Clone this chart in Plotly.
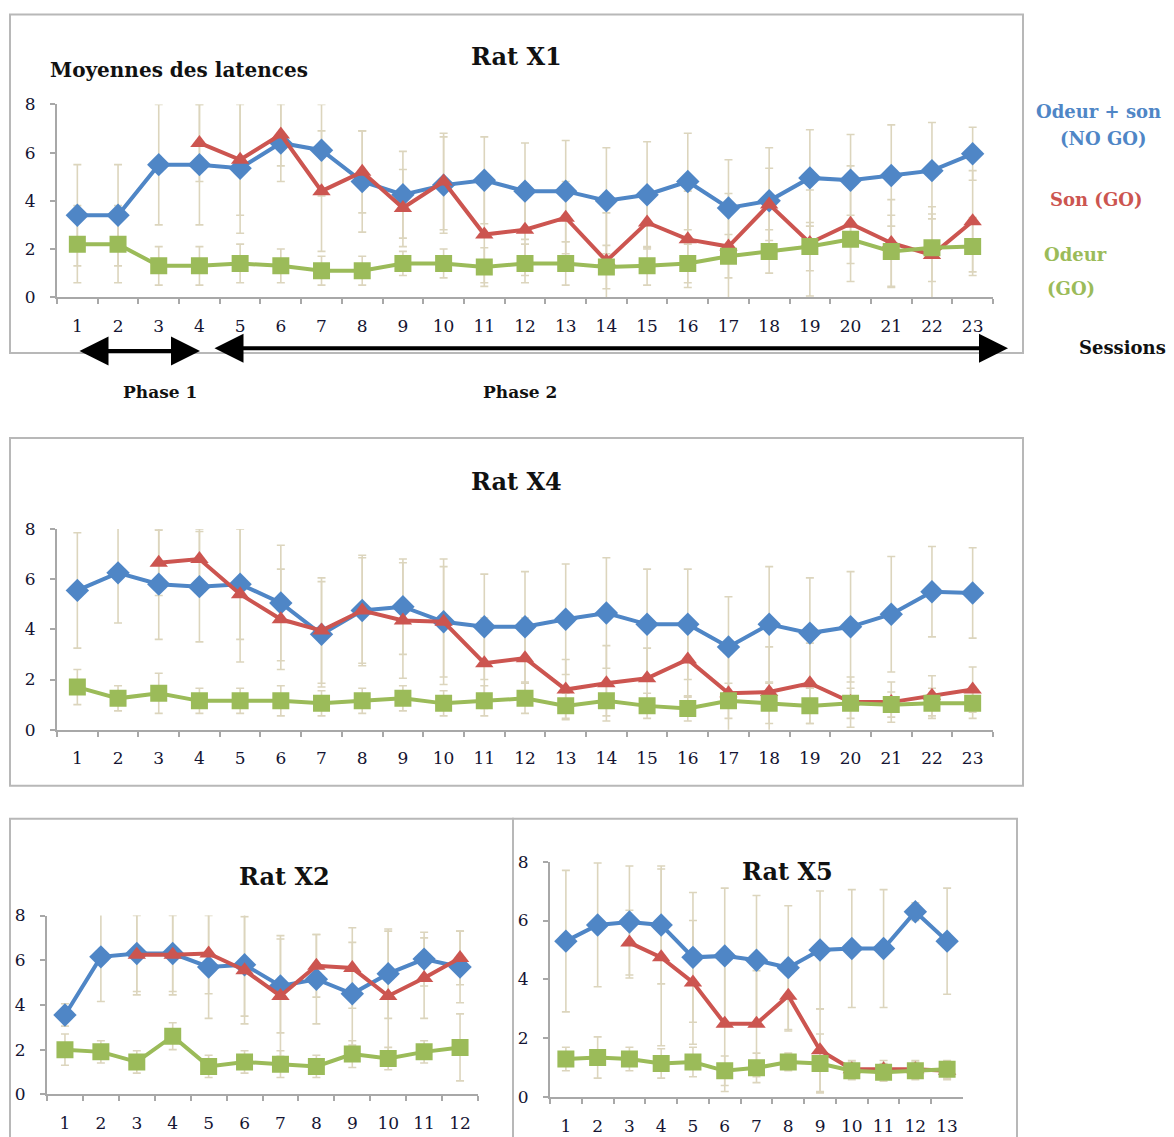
import plotly.graph_objects as go

# reference canvas size, page offset of the figure and observed vertical capture scale
W, H = 1174, 1137
OX = 8
TOP = 16.8
SY = 0.9835
FW = W - 2 * OX
FH = 1140

# ---------------- data ----------------
sessions_23 = ["1", "2", "3", "4", "5", "6", "7", "8", "9", "10", "11", "12",
               "13", "14", "15", "16", "17", "18", "19", "20", "21", "22", "23"]
sessions_12 = ["1", "2", "3", "4", "5", "6", "7", "8", "9", "10", "11", "12"]
sessions_13 = ["1", "2", "3", "4", "5", "6", "7", "8", "9", "10", "11", "12", "13"]

# Rat X1
x1_nogo = [3.4, 3.4, 5.5, 5.5, 5.35, 6.4, 6.1, 4.8, 4.25, 4.65, 4.85, 4.4, 4.4,
           4.0, 4.25, 4.8, 3.7, 4.0, 4.95, 4.85, 5.05, 5.25, 5.95]
x1_son = [None, None, None, 6.4, 5.7, 6.75, 4.4, 5.2, 3.7, 4.8, 2.6, 2.8, 3.3,
          1.5, 3.1, 2.4, 2.1, 3.85, 2.25, 3.05, 2.25, 1.75, 3.15]
x1_odeur = [2.2, 2.2, 1.3, 1.3, 1.4, 1.3, 1.1, 1.1, 1.4, 1.4, 1.25, 1.4, 1.4,
            1.25, 1.3, 1.4, 1.7, 1.9, 2.1, 2.4, 1.9, 2.05, 2.1]
x1_nogo_err = [2.1, 2.1, 2.5, 2.5, 2.7, 1.6, 1.9, 2.1, 1.8, 2.0, 1.8, 2.0, 2.1,
               2.2, 2.2, 2.0, 2.0, 2.2, 2.0, 1.9, 2.1, 2.0, 1.1]
x1_son_err = [None, None, None, 1.6, 2.3, 1.3, 2.5, 1.7, 1.6, 2.0, 2.0, 1.9, 1.5,
              2.0, 1.1, 2.0, 2.2, 1.5, 2.2, 2.4, 1.8, 2.0, 2.1]
x1_odeur_err = [1.6, 1.6, 0.8, 0.8, 0.8, 0.7, 0.6, 0.6, 0.5, 0.6, 0.8, 0.8, 0.9,
                0.9, 0.8, 0.8, 0.9, 0.9, 1.0, 1.0, 1.5, 1.4, 1.2]

# Rat X4
x4_nogo = [5.55, 6.25, 5.8, 5.7, 5.8, 5.05, 3.8, 4.75, 4.9, 4.3, 4.1, 4.1, 4.4,
           4.65, 4.2, 4.2, 3.3, 4.2, 3.85, 4.1, 4.6, 5.5, 5.45]
x4_son = [None, None, 6.65, 6.8, 5.4, 4.4, 3.95, 4.75, 4.35, 4.3, 2.65, 2.85,
          1.6, 1.85, 2.05, 2.8, 1.45, 1.5, 1.85, 1.1, 1.1, 1.35, 1.6]
x4_odeur = [1.7, 1.25, 1.45, 1.15, 1.15, 1.15, 1.05, 1.15, 1.25, 1.05, 1.15,
            1.25, 0.95, 1.15, 0.95, 0.85, 1.15, 1.05, 0.95, 1.05, 1.0, 1.05, 1.05]
x4_nogo_err = [2.3, 2.0, 2.2, 2.2, 2.2, 2.3, 2.1, 2.2, 1.9, 2.5, 2.1, 2.2, 2.2,
               2.2, 2.2, 2.2, 2.0, 2.3, 2.2, 2.2, 2.3, 1.8, 1.8]
x4_son_err = [None, None, 1.3, 1.2, 2.7, 2.0, 2.1, 2.1, 2.3, 2.2, 1.8, 1.6, 1.2,
              1.5, 1.2, 1.5, 1.6, 1.8, 1.6, 1.0, 0.8, 0.8, 0.9]
x4_odeur_err = [0.7, 0.5, 0.8, 0.5, 0.5, 0.6, 0.5, 0.5, 0.5, 0.5, 0.6, 0.6, 0.5,
                0.6, 0.5, 0.5, 0.7, 0.8, 0.7, 0.6, 0.5, 0.6, 0.6]

# Rat X2
x2_nogo = [3.55, 6.15, 6.3, 6.3, 5.7, 5.8, 4.85, 5.15, 4.5, 5.4, 6.05, 5.7]
x2_son = [None, None, 6.25, 6.25, 6.3, 5.55, 4.4, 5.75, 5.65, 4.4, 5.2, 6.1]
x2_odeur = [2.0, 1.9, 1.45, 2.6, 1.25, 1.45, 1.35, 1.25, 1.8, 1.6, 1.9, 2.1]
x2_nogo_err = [0.5, 2.0, 1.7, 1.7, 2.3, 2.3, 2.1, 2.0, 2.3, 2.0, 1.2, 1.6]
x2_son_err = [None, None, 1.8, 1.8, 1.8, 2.4, 2.7, 1.4, 1.8, 2.9, 1.8, 1.2]
x2_odeur_err = [0.7, 0.5, 0.5, 0.6, 0.5, 0.5, 0.6, 0.5, 0.6, 0.5, 0.5, 1.5]

# Rat X5
x5_nogo = [5.3, 5.85, 5.95, 5.85, 4.75, 4.8, 4.65, 4.4, 5.0, 5.05, 5.05, 6.3, 5.3]
x5_son = [None, None, 5.25, 4.75, 3.9, 2.5, 2.5, 3.45, 1.6, 0.95, 0.95, 0.95, 0.9]
x5_odeur = [1.3, 1.35, 1.3, 1.15, 1.2, 0.9, 1.0, 1.2, 1.15, 0.9, 0.85, 0.9, 0.95]
x5_nogo_err = [2.4, 2.1, 1.9, 2.0, 2.2, 2.3, 2.2, 2.1, 2.0, 2.0, 2.0, 0.3, 1.8]
x5_son_err = [None, None, 1.1, 3.0, 2.1, 2.3, 1.8, 1.2, 1.4, 0.3, 0.3, 0.3, 0.3]
x5_odeur_err = [0.4, 0.7, 0.4, 0.5, 0.5, 0.5, 0.5, 0.3, 1.0, 0.3, 0.3, 0.3, 0.3]

series_names = ["Odeur + son (NO GO)", "Son (GO)", "Odeur (GO)"]
y_ticks = [0, 2, 4, 6, 8]

# ---------------- style ----------------
BLUE = "#4f86c6"
RED = "#cc5550"
GREEN = "#9bbb59"
ERR = "#dcd5bd"
SERIF = "DejaVu Serif"
TICKC = "#141432"
AXC = "#a8a8a8"


def pxx(x):
    return (x - OX) / FW


def pyy(y):
    return 1 - (y / SY - TOP) / FH


fig = go.Figure()

panels = [
    ("", sessions_23, x1_nogo, x1_son, x1_odeur,
     (x1_nogo_err, x1_son_err, x1_odeur_err), (57, 993), (103, 296), 17),
    ("2", sessions_23, x4_nogo, x4_son, x4_odeur,
     (x4_nogo_err, x4_son_err, x4_odeur_err), (57, 993), (528, 729), 17),
    ("3", sessions_12, x2_nogo, x2_son, x2_odeur,
     (x2_nogo_err, x2_son_err, x2_odeur_err), (47, 478), (915, 1094), 17),
    ("4", sessions_13, x5_nogo, x5_son, x5_odeur,
     (x5_nogo_err, x5_son_err, x5_odeur_err), (550, 963), (861, 1097), 17),
]

styles = [
    (BLUE, "diamond", 18),
    (RED, "triangle-up", 16),
    (GREEN, "square", 17),
]

layout_axes = {}
for suffix, sess, nogo, son, odeur, errs, xd, yd, fs in panels:
    xa = "x" + suffix
    ya = "y" + suffix
    vals = [nogo, son, odeur]
    for v, e in zip(vals, errs):
        fig.add_trace(go.Scatter(
            x=sess, y=v, xaxis=xa, yaxis=ya, mode="markers",
            marker=dict(size=1, color="rgba(0,0,0,0)"),
            error_y=dict(type="data", array=e, color=ERR, thickness=1.6, width=4),
            showlegend=False, hoverinfo="skip"))
    for v, (col, sym, sz), name in zip(vals, styles, series_names):
        fig.add_trace(go.Scatter(
            x=sess, y=v, xaxis=xa, yaxis=ya, mode="lines+markers", name=name,
            line=dict(color=col, width=4),
            marker=dict(symbol=sym, size=sz, color=col),
            connectgaps=False, showlegend=False))
    layout_axes["xaxis" + suffix] = dict(
        domain=[pxx(xd[0]), pxx(xd[1])], anchor=ya, type="category",
        range=[-0.5, len(sess) - 0.5],
        tickson="boundaries", ticks="outside", ticklen=5, tickcolor=AXC, tickwidth=2,
        showline=True, linecolor=AXC, linewidth=2, showgrid=False, zeroline=False,
        tickangle=0,
        tickfont=dict(family=SERIF, size=fs, color=TICKC), ticklabelstandoff=12,
        fixedrange=True)
    layout_axes["yaxis" + suffix] = dict(
        domain=[pyy(yd[1]), pyy(yd[0])], anchor=xa, range=[0, 8],
        tickvals=y_ticks, ticks="outside", ticklen=5, tickcolor=AXC, tickwidth=2,
        showline=True, linecolor=AXC, linewidth=2, showgrid=False, zeroline=False,
        tickfont=dict(family=SERIF, size=17, color=TICKC), ticklabelstandoff=11,
        fixedrange=True)

frames = [(10, 13, 1023, 352), (10, 437, 1023, 785),
          (10, 818, 513, 1145), (513, 818, 1017, 1145)]
shapes = []
for x0, y0, x1, y1 in frames:
    shapes.append(dict(type="rect", xref="paper", yref="paper",
                       x0=pxx(x0), x1=pxx(x1), y0=pyy(y1), y1=pyy(y0),
                       line=dict(color="#b8b8b8", width=2), layer="below"))

annotations = []


def text(x, y, s, size, color="#111111", xanchor="center"):
    annotations.append(dict(x=pxx(x), y=pyy(y), xref="paper", yref="paper",
                            text=s, showarrow=False, xanchor=xanchor, yanchor="middle",
                            font=dict(family=SERIF, size=size, color=color)))


text(516, 55, "<b>Rat X1</b>", 24)
text(516, 481, "<b>Rat X4</b>", 24)
text(284, 876, "<b>Rat X2</b>", 24)
text(788, 871, "<b>Rat X5</b>", 24)
text(48, 69, "<b>Moyennes des latences</b>", 20, xanchor="left")
text(1098, 110, "<b>Odeur + son</b>", 18, BLUE)
text(1103, 137, "<b>(NO GO)</b>", 18, BLUE)
text(1096, 198, "<b>Son (GO)</b>", 18, RED)
text(1075, 253, "<b>Odeur</b>", 18, GREEN)
text(1071, 287, "<b>(GO)</b>", 18, GREEN)
text(1122, 346, "<b>Sessions</b>", 18)
text(160, 391, "<b>Phase 1</b>", 17)
text(520, 391, "<b>Phase 2</b>", 17)

# double arrows for phases
for xa0, xa1, ya in [(78, 200, 350), (213, 1008, 347)]:
    annotations.append(dict(x=pxx(xa1), y=pyy(ya), xref="paper", yref="paper",
                            ax=-(xa1 - xa0), ay=0, axref="pixel", ayref="pixel",
                            text="", showarrow=True, arrowhead=2, arrowside="end+start",
                            arrowwidth=4, arrowsize=1.45, arrowcolor="#000000"))

fig.update_layout(
    width=FW, height=FH, margin=dict(l=0, r=0, t=0, b=0),
    paper_bgcolor="white", plot_bgcolor="white",
    showlegend=False, shapes=shapes, annotations=annotations,
    **layout_axes)

fig.write_html("out.html")
